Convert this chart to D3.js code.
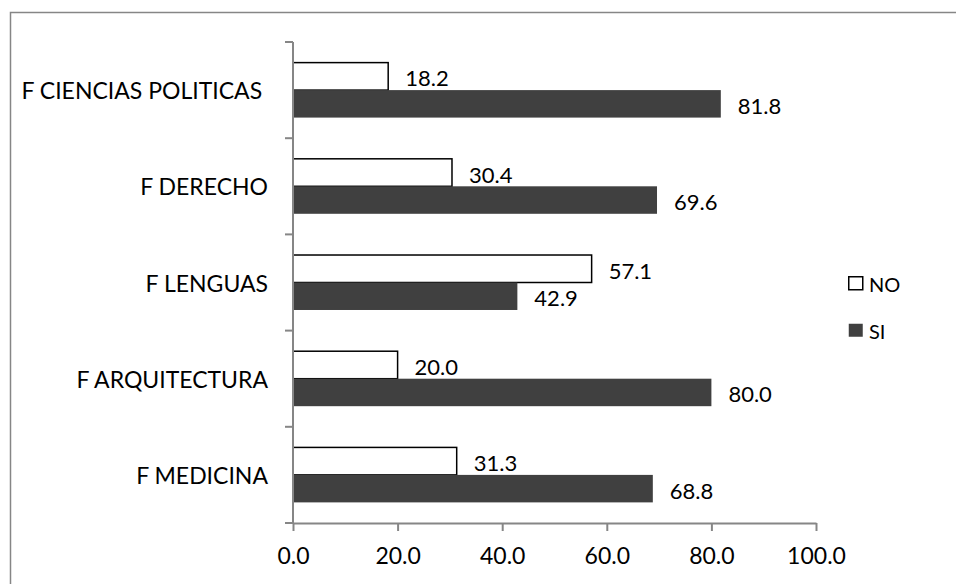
<!DOCTYPE html>
<html>
<head>
<meta charset="utf-8">
<script src="https://d3js.org/d3.v7.min.js"></script>
<style>
    body { margin: 0; background: #fff; }
    text { font-family: Lato, "Liberation Sans", sans-serif; fill: #000; }
</style>
</head>
<body>
<svg width="956" height="584"></svg>
<script>
    // data, top to bottom as drawn
    const categories = ["F CIENCIAS POLITICAS\u00a0", "F DERECHO", "F LENGUAS", "F ARQUITECTURA", "F MEDICINA"];
    const series = ["NO", "SI"];
    const noValues = [18.2, 30.4, 57.1, 20.0, 31.3];
    const siValues = [81.8, 69.6, 42.9, 80.0, 68.8];
    const xTicks = [0, 20, 40, 60, 80, 100];

    const colors = { NO: "#ffffff", SI: "#404040" };
    const axisColor = "#868686";

    const svg = d3.select("svg");

    // chart border (left and top only visible)
    svg.append("path")
        .attr("d", "M10.5,584 V12.5 H956")
        .attr("fill", "none")
        .attr("stroke", axisColor)
        .attr("stroke-width", 1.5);

    const x = d3.scaleLinear().domain([0, 100]).range([293, 816]);
    const y0 = d3.scaleBand().domain(categories).range([42, 523]);
    const y1 = d3.scaleBand().domain(series).range([0, y0.bandwidth()]).paddingOuter(0.75);

    const rows = categories.map((c, i) => ({ cat: c, NO: noValues[i], SI: siValues[i] }));

    // bars
    const groups = svg.selectAll("g.row")
        .data(rows)
        .enter()
        .append("g")
        .attr("class", "row")
        .attr("transform", d => `translate(0,${y0(d.cat)})`);

    groups.selectAll("rect")
        .data(d => series.map(s => ({ s: s, v: d[s] })))
        .enter()
        .append("rect")
        .attr("x", x(0))
        .attr("y", d => y1(d.s))
        .attr("width", d => x(d.v) - x(0))
        .attr("height", y1.bandwidth())
        .attr("fill", d => colors[d.s])
        .attr("stroke", d => d.s === "NO" ? "#000" : "none")
        .attr("stroke-width", 1.5);

    // value labels
    groups.selectAll("text.val")
        .data(d => series.map(s => ({ s: s, v: d[s] })))
        .enter()
        .append("text")
        .attr("class", "val")
        .attr("x", d => x(d.v) + 17)
        .attr("y", d => y1(d.s) + y1.bandwidth() / 2 + 1.5)
        .attr("dominant-baseline", "central")
        .style("font-size", "22px")
        .text(d => d.v.toFixed(1));

    // x axis
    const xAxis = svg.append("g")
        .attr("transform", "translate(0,523)")
        .call(d3.axisBottom(x).tickValues(xTicks).tickSize(8).tickSizeOuter(0).tickFormat(d3.format(".1f")));
    xAxis.select(".domain").attr("stroke", axisColor).attr("stroke-width", 2);
    xAxis.selectAll(".tick line").attr("stroke", axisColor).attr("stroke-width", 2);
    xAxis.selectAll(".tick text")
        .attr("y", 25)
        .style("font-size", "23px")
        .style("font-family", "Lato, sans-serif")
        .attr("fill", "#000");

    // y axis: line plus ticks at band edges
    svg.append("line")
        .attr("x1", x(0)).attr("x2", x(0))
        .attr("y1", y0.range()[0]).attr("y2", y0.range()[1])
        .attr("stroke", axisColor).attr("stroke-width", 2);

    const edges = categories.map(c => y0(c)).concat([y0.range()[1]]);
    svg.selectAll("line.ytick")
        .data(edges)
        .enter()
        .append("line")
        .attr("class", "ytick")
        .attr("x1", x(0) - 8).attr("x2", x(0))
        .attr("y1", d => d).attr("y2", d => d)
        .attr("stroke", axisColor).attr("stroke-width", 2);

    svg.selectAll("text.cat")
        .data(categories)
        .enter()
        .append("text")
        .attr("class", "cat")
        .attr("x", 268)
        .attr("y", d => y0(d) + y0.bandwidth() / 2)
        .attr("text-anchor", "end")
        .attr("dominant-baseline", "central")
        .style("font-size", "23px")
        .text(d => d);

    // legend
    const legend = svg.selectAll("g.legend")
        .data(series)
        .enter()
        .append("g")
        .attr("class", "legend")
        .attr("transform", (d, i) => `translate(848,${276 + i * 47})`);

    legend.append("rect")
        .attr("x", 0.75).attr("y", 0.75)
        .attr("width", 14).attr("height", 13)
        .attr("fill", d => colors[d])
        .attr("stroke", d => d === "NO" ? "#000" : "none")
        .attr("stroke-width", 1.5);

    legend.append("text")
        .attr("x", 21)
        .attr("y", 7.5)
        .attr("dominant-baseline", "central")
        .style("font-size", "20px")
        .text(d => d);
</script>
</body>
</html>
